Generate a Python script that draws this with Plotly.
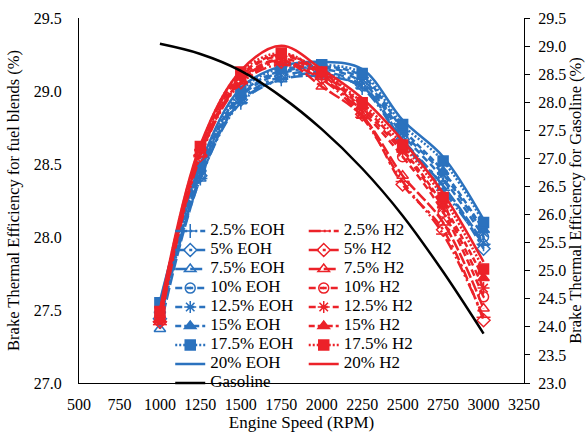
import plotly.graph_objects as go

speed = [1000, 1250, 1500, 1750, 2000, 2250, 2500, 2750, 3000]

eoh_labels = ["2.5% EOH", "5% EOH", "7.5% EOH", "10% EOH", "12.5% EOH", "15% EOH", "17.5% EOH", "20% EOH"]
h2_labels = ["2.5% H2", "5% H2", "7.5% H2", "10% H2", "12.5% H2", "15% H2", "17.5% H2", "20% H2"]

eoh_2_5 = [27.42, 28.40, 28.92, 29.08, 29.12, 29.02, 28.65, 28.32, 27.95]
eoh_5 = [27.44, 28.42, 28.94, 29.10, 29.13, 29.04, 28.67, 28.35, 27.92]
eoh_7_5 = [27.37, 28.40, 28.93, 29.08, 29.10, 29.03, 28.66, 28.35, 27.96]
eoh_10 = [27.46, 28.43, 28.96, 29.12, 29.15, 29.06, 28.70, 28.40, 28.00]
eoh_12_5 = [27.48, 28.45, 28.97, 29.13, 29.16, 29.08, 28.72, 28.43, 28.03]
eoh_15 = [27.50, 28.47, 28.98, 29.14, 29.17, 29.10, 28.74, 28.45, 28.05]
eoh_17_5 = [27.55, 28.48, 29.00, 29.16, 29.18, 29.12, 28.77, 28.52, 28.10]
eoh_20 = [27.56, 28.50, 29.02, 29.17, 29.20, 29.15, 28.80, 28.55, 28.12]

h2_2_5 = [27.40, 28.55, 29.05, 29.18, 29.08, 28.82, 28.38, 28.02, 27.45]
h2_5 = [27.42, 28.56, 29.06, 29.20, 29.09, 28.84, 28.36, 28.05, 27.43]
h2_7_5 = [27.43, 28.57, 29.07, 29.21, 29.03, 28.83, 28.42, 28.10, 27.51]
h2_10 = [27.44, 28.58, 29.08, 29.22, 29.11, 28.86, 28.55, 28.17, 27.59]
h2_12_5 = [27.45, 28.60, 29.10, 29.24, 29.12, 28.88, 28.58, 28.20, 27.65]
h2_15 = [27.43, 28.61, 29.11, 29.25, 29.13, 28.90, 28.60, 28.22, 27.72]
h2_17_5 = [27.49, 28.62, 29.13, 29.26, 29.13, 28.92, 28.63, 28.27, 27.78]
h2_20 = [27.50, 28.63, 29.14, 29.31, 29.15, 28.95, 28.66, 28.30, 27.83]

gasoline = [29.04, 28.86, 28.56, 28.10, 27.52, 26.82, 25.98, 24.98, 23.88]

eoh_series = [eoh_2_5, eoh_5, eoh_7_5, eoh_10, eoh_12_5, eoh_15, eoh_17_5, eoh_20]
h2_series = [h2_2_5, h2_5, h2_7_5, h2_10, h2_12_5, h2_15, h2_17_5, h2_20]

x_ticks = [500, 750, 1000, 1250, 1500, 1750, 2000, 2250, 2500, 2750, 3000, 3250]
y1_ticks = [27.0, 27.5, 28.0, 28.5, 29.0, 29.5]
y2_ticks = [23.0, 23.5, 24.0, 24.5, 25.0, 25.5, 26.0, 26.5, 27.0, 27.5, 28.0, 28.5, 29.0, 29.5]

BLUE = "#2B72BE"
RED = "#EC2229"
FONT = "Liberation Serif, Times New Roman, DejaVu Serif, serif"

dashes = ["12px,3px,2px,3px,2px,3px", "10px,4px,3px,4px", "12px,3px", "7px,4px",
          "7px,5px", "6px,3px", "2px,2px", "solid"]
eoh_symbols = ["cross-thin-open", "diamond-open", "triangle-up-open", "circle-open-dot",
               "asterisk-open", "triangle-up", "square", None]
h2_symbols = ["line-ew-open", "diamond-open", "triangle-up-open", "circle-open-dot",
              "asterisk-open", "triangle-up", "square", None]


def nm(s):
    return "<span style='font-size:17px'>" + s + "</span>"


fig = go.Figure()

for i in range(8):
    sym = eoh_symbols[i]
    fig.add_trace(go.Scatter(
        x=speed, y=eoh_series[i], name=nm(eoh_labels[i]),
        mode="lines+markers" if sym else "lines",
        line=dict(color=BLUE, width=2.5, dash=dashes[i], shape="spline"),
        marker=dict(symbol=sym or "circle", size=10, color=BLUE,
                    line=dict(color=BLUE, width=1.5)),
        legend="legend", legendrank=i + 1,
    ))

for i in range(8):
    sym = h2_symbols[i]
    fig.add_trace(go.Scatter(
        x=speed, y=h2_series[i], name=nm(h2_labels[i]),
        mode="lines+markers" if sym else "lines",
        line=dict(color=RED, width=2.5, dash=dashes[i], shape="spline"),
        marker=dict(symbol=sym or "circle", size=10, color=RED,
                    line=dict(color=RED, width=1.5)),
        legend="legend2", legendrank=i + 1,
    ))

fig.add_trace(go.Scatter(
    x=speed, y=gasoline, name=nm("Gasoline"), yaxis="y2", mode="lines",
    line=dict(color="black", width=2.5, shape="spline"),
    legend="legend", legendrank=20,
))

fig.update_layout(
    width=587, height=435,
    margin=dict(l=79, r=63, t=18, b=52, autoexpand=False),
    paper_bgcolor="white", plot_bgcolor="white",
    font=dict(family=FONT, size=16, color="black"),
    showlegend=True,
    xaxis=dict(
        range=[500, 3250], tickvals=x_ticks, ticktext=[str(v) for v in x_ticks],
        showgrid=False, zeroline=False, showline=True, linecolor="black", linewidth=1,
        ticks="", tickfont=dict(size=16, family=FONT), ticklabelstandoff=7,
        automargin=False,
        title=dict(text="Engine Speed (RPM)", font=dict(size=17, family=FONT), standoff=0),
    ),
    yaxis=dict(
        range=[27.0, 29.5], tickvals=y1_ticks, ticktext=["%.1f" % v for v in y1_ticks],
        showgrid=False, zeroline=False, showline=True, linecolor="black", linewidth=1,
        ticks="", tickfont=dict(size=16, family=FONT), ticklabelstandoff=13,
        automargin=False,
        title=dict(text="Brake Thermal Efficiency for fuel blends (%)",
                   font=dict(size=16.5, family=FONT), standoff=10),
    ),
    yaxis2=dict(
        range=[23.0, 29.5], tickvals=y2_ticks, ticktext=["%.1f" % v for v in y2_ticks],
        overlaying="y", side="right",
        showgrid=False, zeroline=False, showline=True, linecolor="black", linewidth=1,
        ticks="outside", ticklen=5, tickcolor="black",
        tickfont=dict(size=16, family=FONT), ticklabelstandoff=5,
        automargin=False,
        title=dict(text="Brake Thermal Efficiency for Gasoline (%)",
                   font=dict(size=16.5, family=FONT), standoff=2),
    ),
    legend=dict(
        x=0.205, y=0.456, xanchor="left", yanchor="top",
        bgcolor="rgba(0,0,0,0)", borderwidth=0, tracegroupgap=0,
        font=dict(size=10.5, family=FONT), itemwidth=30,
    ),
    legend2=dict(
        x=0.505, y=0.456, xanchor="left", yanchor="top",
        bgcolor="rgba(0,0,0,0)", borderwidth=0, tracegroupgap=0,
        font=dict(size=10.5, family=FONT), itemwidth=30,
    ),
)

fig.write_html("out.html")
